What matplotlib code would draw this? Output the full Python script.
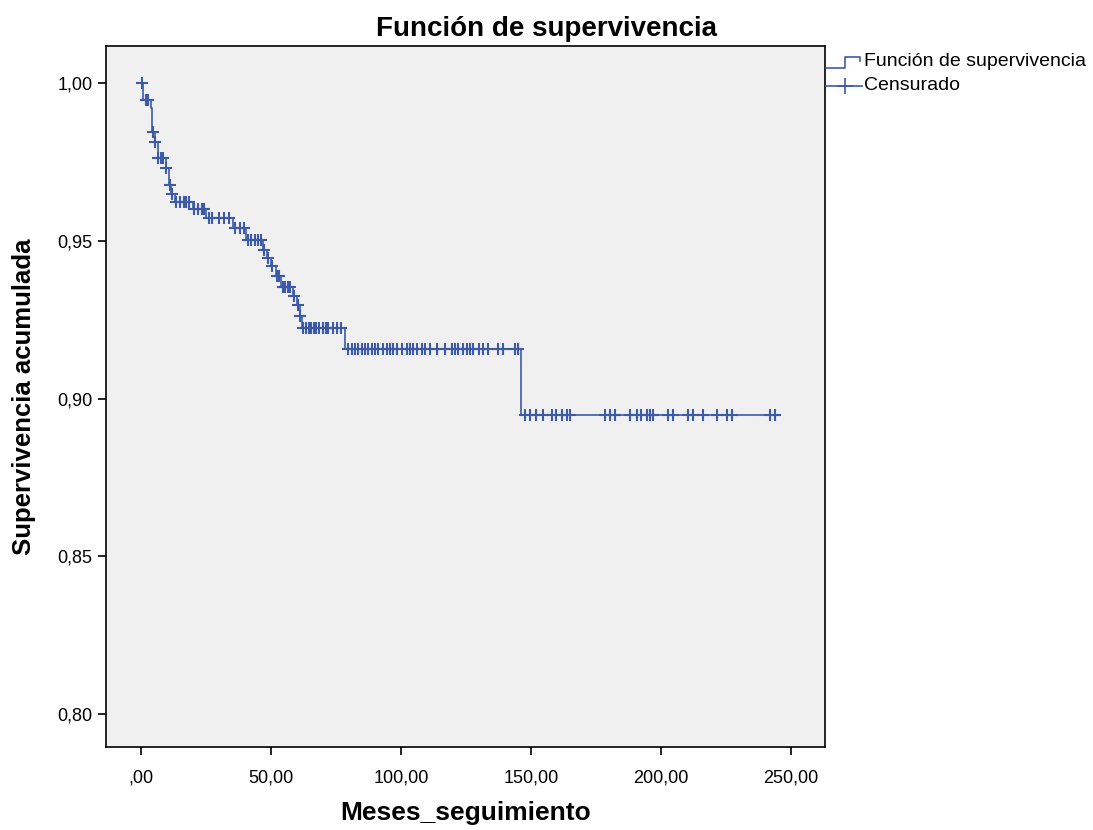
import numpy as np
import matplotlib
matplotlib.use("Agg")
import matplotlib.pyplot as plt
from matplotlib.lines import Line2D

plt.rcParams['font.family'] = ['Liberation Sans', 'DejaVu Sans']

# Kaplan-Meier estimate: event times and survival right after each event
event_times = [0.0, 0.9, 4.0, 4.4, 5.4, 6.6, 9.5, 10.8, 11.5, 13.0, 20.0, 25.0,
               35.5, 40.5, 47.0, 48.5, 50.0, 52.0, 54.0, 58.5, 60.0, 61.0, 62.0,
               78.4, 146.2]
survival = [1.0, 0.9947, 0.9922, 0.9846, 0.9815, 0.9763, 0.9731, 0.9677, 0.9650,
            0.9624, 0.9600, 0.9572, 0.9541, 0.9503, 0.9471, 0.9446, 0.9420,
            0.9389, 0.9354, 0.9325, 0.9297, 0.9262, 0.9224, 0.9157, 0.8948]

# Censored follow-up times
censored = [0.4, 1.8, 2.6, 4.5, 5.5, 6.7, 7.5, 8.3, 9.8, 11.0, 11.8,
            13.5, 15.0, 16.5, 17.5, 18.5, 20.5, 22.0, 23.5, 24.2,
            26.0, 27.5, 30.0, 32.0, 34.0, 36.0, 38.0, 39.5,
            41.0, 42.5, 44.0, 45.0, 46.0, 47.5, 49.0, 50.5, 52.5, 53.0,
            54.5, 55.5, 56.5, 57.5, 59.0, 60.3, 61.3,
            62.5, 63.5, 64.5, 65.5, 66.5, 67.5, 68.5, 70.0, 71.0, 72.0,
            74.0, 75.5, 77.0,
            79.8, 81.1, 82.4, 83.6, 84.9, 86.2, 87.5, 88.8, 90.1, 91.3,
            93.2, 94.5, 95.8, 97.1, 98.4, 100.3, 102.2, 103.5, 104.8, 106.1,
            108.0, 109.3, 111.2, 113.8, 117.0, 119.6, 120.8, 122.1, 124.1,
            125.4, 126.6, 127.9, 129.9, 131.8, 133.7, 137.5, 139.5, 143.9, 145.2,
            147.7, 149.7, 152.2, 154.8, 158.0, 159.9, 161.9, 163.8, 165.1,
            178.5, 180.4, 182.4, 188.1, 190.7, 192.6, 194.6, 195.8, 197.1,
            202.9, 204.8, 210.6, 212.5, 216.4, 221.5, 225.4, 227.3, 242.0, 244.0]

x_ticks = [0, 50, 100, 150, 200, 250]
x_tick_labels = [",00", "50,00", "100,00", "150,00", "200,00", "250,00"]
y_ticks = [0.80, 0.85, 0.90, 0.95, 1.00]
y_tick_labels = ["0,80", "0,85", "0,90", "0,95", "1,00"]

color = '#3d5aa8'

W, H = 1093.0, 830.0
def fx(p):
    return p / W
def fy(p):
    return 1 - p / H

fig = plt.figure(figsize=(10.93, 8.30), dpi=100)
ax = fig.add_axes([0.0967, 0.100, 0.658, 0.8446])
ax.set_facecolor('#f0f0f0')

# Survival step curve, extended to the last follow-up time
t_end = max(censored)
xs = list(event_times) + [t_end]
ys = list(survival) + [survival[-1]]
ax.step(xs, ys, where='post', color=color, lw=1.2)

# Censor marks at the survival level in force at each censored time
idx = np.searchsorted(event_times, censored, side='right') - 1
cens_y = np.asarray(survival)[idx]
ax.plot(censored, cens_y, linestyle='none', marker='+', ms=8.5, mew=1.5,
        color=color)

ax.set_xlim(-13.6, 263.2)
ax.set_ylim(0.7895, 1.0118)
ax.set_xticks(x_ticks)
ax.set_xticklabels(x_tick_labels)
ax.set_yticks(y_ticks)
ax.set_yticklabels(y_tick_labels)
ax.tick_params(direction='out', length=6, width=1.2, labelsize=13, colors='black')
ax.tick_params(axis='x', pad=10)
for s in ax.spines.values():
    s.set_linewidth(1.2)
    s.set_color('black')

fig.text(0.5, fy(29), "Función de supervivencia", fontsize=20,
         fontweight='bold', ha='center', va='center')
fig.text(fx(466), fy(813), "Meses_seguimiento", fontsize=19,
         fontweight='bold', ha='center', va='center')
fig.text(fx(24), fy(397), "Supervivencia acumulada", fontsize=18.5,
         fontweight='bold', ha='center', va='center', rotation=90)

# Legend drawn beside the plot area
step_px = [(826, 68), (845, 68), (845, 57), (860, 57), (860, 61)]
fig.add_artist(Line2D([fx(p[0]) for p in step_px], [fy(p[1]) for p in step_px],
                      color=color, lw=1.2, transform=fig.transFigure))
fig.add_artist(Line2D([fx(826), fx(862)], [fy(86), fy(86)], color=color, lw=1.2,
                      transform=fig.transFigure))
fig.add_artist(Line2D([fx(845)], [fy(86)], color=color, marker='+', ms=11,
                      mew=1.2, linestyle='none', transform=fig.transFigure))
fig.text(fx(864), fy(62), "Función de supervivencia", fontsize=14,
         va='center', ha='left')
fig.text(fx(864), fy(85), "Censurado", fontsize=14, va='center', ha='left')

fig.savefig("out.png", dpi=100, facecolor='white')
